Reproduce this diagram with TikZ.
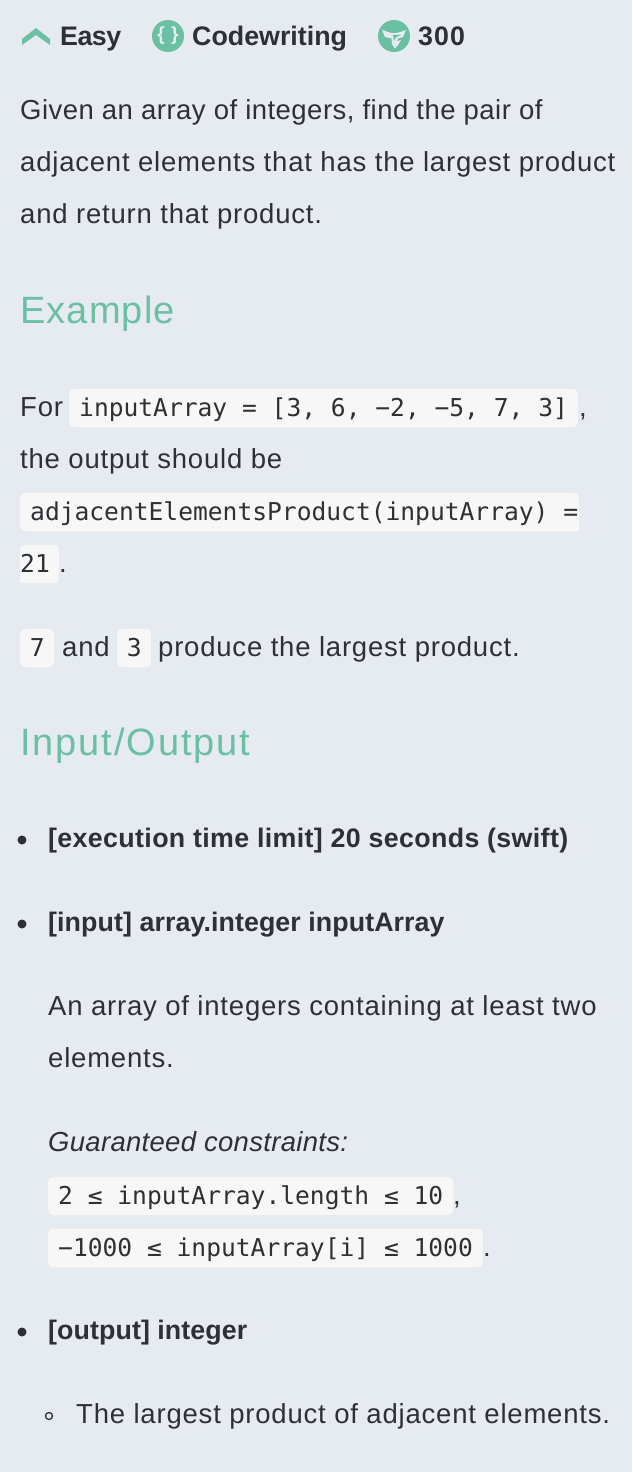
\documentclass[tikz,border=0pt]{standalone}
\usepackage{fontspec}
\setmainfont{Liberation Sans}
\setmonofont{DejaVu Sans Mono}
\definecolor{pagebg}{HTML}{E6EAF1}
\definecolor{inkdark}{HTML}{2F3034}
\definecolor{mintgreen}{HTML}{6BBFA3}
\definecolor{codebg}{HTML}{F7F7F7}
\newcommand{\track}[1]{\addfontfeature{LetterSpace=#1}}
\begin{document}
\begin{tikzpicture}[
  x=1pt, y=-1pt,
  bodytxt/.style={anchor=base west, inner sep=0pt, text=inkdark, font=\fontsize{27.5}{30}\selectfont\track{2.9}},
  boldtxt/.style={bodytxt, font=\fontsize{26.8}{30}\selectfont\bfseries\track{0.3}},
  headtxt/.style={anchor=base west, inner sep=0pt, text=mintgreen, font=\fontsize{38}{42}\selectfont\track{4}},
  codetxt/.style={anchor=base west, inner sep=0pt, text=inkdark, font=\fontsize{24.6}{28}\ttfamily},
  codebox/.style={codetxt, fill=codebg, rounded corners=5pt, inner xsep=10pt, inner ysep=0pt, text height=27pt, text depth=11pt},
  badge/.style={circle, fill=mintgreen, inner sep=0pt, minimum size=32pt},
  bullet/.style={circle, fill=inkdark, inner sep=0pt, minimum size=9pt},
  subbullet/.style={circle, draw=inkdark, line width=1.3pt, inner sep=0pt, minimum size=7pt}
]
  \useasboundingbox (0,0) rectangle (632,1472);
  \fill[pagebg] (0,0) rectangle (632,1472);

  % Cabecera
  \fill[mintgreen] (22,39) -- (36,28) -- (50,39) -- (50,45) -- (36,35) -- (22,45) -- cycle;
  \node[boldtxt] (easy) at (60,46) {\track{-2}Easy};
  \node[badge] (kind) at (168,36) {};
  \node[anchor=center, inner sep=0pt, text=pagebg, font=\fontsize{19}{24}\selectfont\bfseries] (braces) at (168,35.8) {\{\,\,\}};
  \node[boldtxt] (codewriting) at (192,46) {\track{0}Codewriting};
  \node[badge] (score) at (394,36) {};
  \fill[pagebg] (382,30) -- (391,33) -- (397,33) -- (406,30) -- (403,37) -- (398,38.5) -- (397,41) -- (401,40) -- (398,45) -- (394.5,48.5) -- (392,44) -- (391.5,38.5) -- (385,37) -- cycle;
  \fill[mintgreen] (393,35) -- (401,35) -- (396,37) -- (394,41) -- cycle;
  \node[boldtxt] (points) at (418,46) {\track{4}300};

  % Enunciado
  \node[bodytxt] (intro1) at (20,119) {\track{1.7}Given an array of integers, find the pair of};
  \node[bodytxt] (intro2) at (20,171) {adjacent elements that has the largest product};
  \node[bodytxt] (intro3) at (20,223) {and return that product.};

  % Ejemplo
  \node[headtxt] (example) at (20,323) {\track{3}Example};
  \node[bodytxt] (for) at (20,416) {For};
  \node[codebox] (call1) at (69,416) {inputArray = [3, 6, −2, −5, 7, 3]};
  \node[bodytxt] (comma1) at (579,416) {,};
  \node[bodytxt] (should) at (20,468) {the output should be};
  \fill[codebg, rounded corners=5pt] (579,493) [sharp corners] -- (579,531) [rounded corners=5pt] -- (20,531) -- (20,493) -- cycle;
  \node[codetxt] (call2) at (30,520) {adjacentElementsProduct(inputArray) =};
  \fill[codebg, rounded corners=5pt] (20,545) [rounded corners=0pt] -- (20,583) [rounded corners=5pt] -- (59,583) -- (59,545) -- cycle;
  \node[codetxt] (result) at (20,572) {21};
  \node[bodytxt] (dot1) at (59,572) {.};
  \node[codebox, inner xsep=9.6pt] (seven) at (20,656) {7};
  \node[bodytxt] (and) at (62,656) {and};
  \node[codebox, inner xsep=9.6pt] (three) at (117,656) {3};
  \node[bodytxt] (produce) at (158,656) {produce the largest product.};

  % Entrada y salida
  \node[headtxt] (inout) at (20,755) {\track{5}Input/Output};
  \node[bullet] (b1) at (22,840) {};
  \node[boldtxt] (limit) at (48,847) {\track{1.3}[execution time limit] 20 seconds (swift)};
  \node[bullet] (b2) at (22,924) {};
  \node[boldtxt] (input) at (48,931) {[input] array.integer inputArray};
  \node[bodytxt] (desc1) at (48,1015) {An array of integers containing at least two};
  \node[bodytxt] (desc2) at (48,1067) {elements.};
  \node[bodytxt, font=\fontsize{27.5}{30}\selectfont\itshape\track{1.1}] (guar) at (48,1151) {Guaranteed constraints:};
  \node[codebox] (rule1) at (48,1204) {2 ≤ inputArray.length ≤ 10};
  \node[bodytxt] (comma2) at (453,1204) {,};
  \node[codebox] (rule2) at (48,1256) {−1000 ≤ inputArray[i] ≤ 1000};
  \node[bodytxt] (dot2) at (483,1256) {.};
  \node[bullet] (b3) at (22,1332) {};
  \node[boldtxt] (output) at (48,1339) {[output] integer};
  \node[subbullet] (b4) at (49,1416) {};
  \node[bodytxt] (largest) at (76,1423) {The largest product of adjacent elements.};
\end{tikzpicture}
\end{document}
